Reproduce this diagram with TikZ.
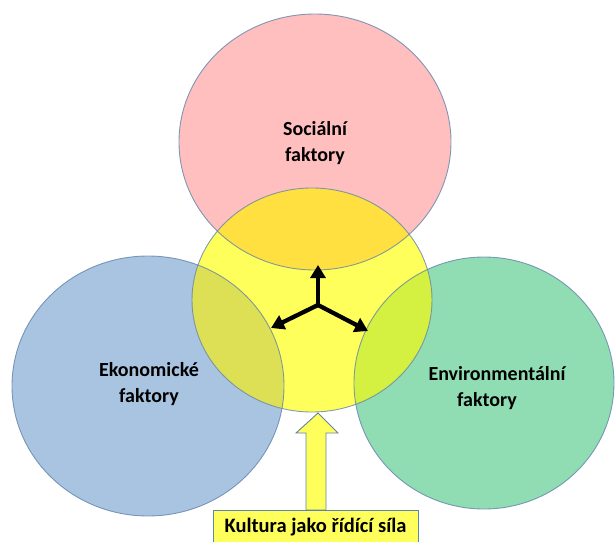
\documentclass[tikz,border=0pt]{standalone}
\usepackage{fontspec}
\setmainfont{Carlito}
\usetikzlibrary{arrows.meta}
\definecolor{cpink}{HTML}{FFBFBF}
\definecolor{cyel}{HTML}{FFFF5B}
\definecolor{cpy}{HTML}{FFE040}
\definecolor{cblue}{HTML}{A8C4E0}
\definecolor{cby}{HTML}{DDE055}
\definecolor{cgreen}{HTML}{90DDB4}
\definecolor{cgy}{HTML}{D4F040}
\definecolor{cline}{HTML}{6284AC}
\tikzset{
  outl/.style={draw=cline, line width=0.9pt},
  lbl/.style={font=\bfseries\fontsize{20}{25.5}\selectfont, align=center, text=black},
  star/.style={line width=4.3pt, -{Triangle[length=13pt,width=15pt]}},
}
\def\pinkpath{(315,142) ellipse [x radius=136, y radius=128]}
\def\yelpath{(312,300) ellipse [x radius=120, y radius=112]}
\def\bluepath{(148,386) ellipse [x radius=136, y radius=130]}
\def\greenpath{(484,383) ellipse [x radius=130, y radius=126]}
\begin{document}
\begin{tikzpicture}[x=1pt,y=-1pt]
\useasboundingbox (0,0) rectangle (615,541);
% fills
\fill[cpink] \pinkpath;
\fill[cblue] \bluepath;
\fill[cgreen] \greenpath;
\fill[cyel] \yelpath;
\begin{scope}\clip \yelpath; \fill[cpy] \pinkpath; \end{scope}
\begin{scope}\clip \yelpath; \fill[cby] \bluepath; \end{scope}
\begin{scope}\clip \yelpath; \fill[cgy] \greenpath; \end{scope}
% outlines
\draw[outl, draw opacity=0.8] \pinkpath;
\draw[outl, draw opacity=0.8] \bluepath;
\draw[outl, draw opacity=0.8] \greenpath;
\draw[outl, draw opacity=0.8] \yelpath;
% labels
\node[lbl] (soc) at (315,143) {Sociální\\faktory};
\node[lbl] (eko) at (149,384) {Ekonomické\\faktory};
\node[lbl] (env) at (497,388) {Environmentální\\\hspace*{-20pt}faktory};
% star arrows
\coordinate (c) at (318,305);
\coordinate (tup) at (318,265);
\coordinate (tl) at (271,328);
\coordinate (tr) at (368,331);
\draw[star] (c) -- (tup);
\draw[star] (c) -- (tl);
\draw[star] (c) -- (tr);
% bottom block arrow
\draw[outl, fill=cyel] (296,433) -- (318,413) -- (338,433) -- (326,433) -- (326,510) -- (306,510) -- (306,433) -- cycle;
\draw[outl, fill=cyel] (213,510) rectangle (418,548);
\node[lbl, font=\bfseries\fontsize{20.5}{24}\selectfont] (kult) at (315.5,527) {Kultura jako řídící síla};
\end{tikzpicture}
\end{document}
